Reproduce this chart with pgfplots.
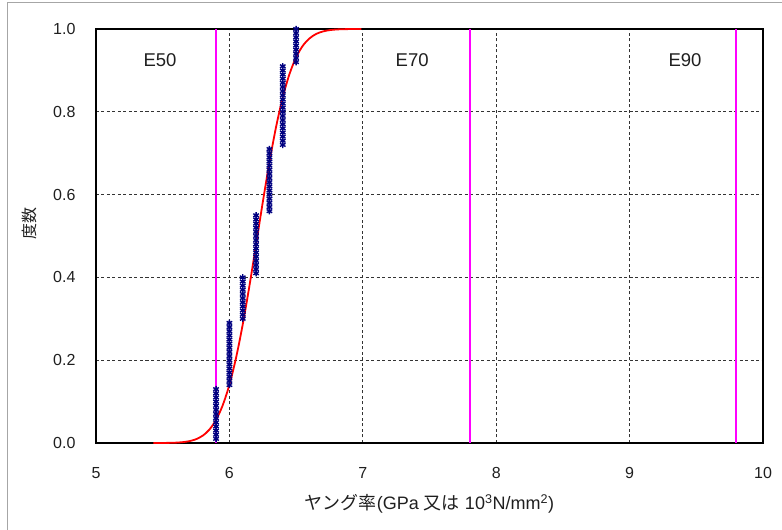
\documentclass[border=0pt]{standalone}
\usepackage{pgfplots}
\pgfplotsset{compat=1.18}
\usepackage{fontspec}
\setmainfont{Liberation Sans}
\newfontfamily\jp{Noto Sans CJK JP}
\definecolor{markblue}{HTML}{000080}
\definecolor{framegray}{HTML}{A6A6A6}
\definecolor{limitpink}{HTML}{FF00FF}
\definecolor{txt}{HTML}{1F1F1F}
\begin{document}
\begin{tikzpicture}
\path[use as bounding box] (0,0) rectangle (782pt,530pt);
% chart area border
\draw[framegray, line width=1pt] (7pt,0pt) -- (7pt,527pt) -- (782pt,527pt);
\begin{axis}[
  at={(96pt,87pt)}, anchor=south west,
  width=667pt, height=414pt, scale only axis,
  xmin=5, xmax=10, ymin=0, ymax=1,
  xtick={5,6,7,8,9,10},
  ytick={0,0.2,0.4,0.6,0.8,1},
  major tick length=0pt,
  axis line style={black, line width=1.6pt},
  grid=major,
  major grid style={black!80, line width=0.8pt, dash pattern=on 3pt off 2.5pt},
  /pgf/number format/assume math mode=true,
  ticklabel style={font=\fontsize{16}{19}\selectfont, text=txt},
  yticklabel style={/pgf/number format/.cd, fixed, fixed zerofill, precision=1, /tikz/.cd, xshift=-17pt},
  xticklabel style={yshift=-21pt},
  xlabel={{\jp ヤング率}(GPa {\jp 又は} 10\textsuperscript{3}N/mm\textsuperscript{2})},
  ylabel={\jp 度数},
  label style={text=txt},
  xlabel style={font=\fontsize{18}{21}\selectfont, at={(axis description cs:0.5,-0.148)}, anchor=center},
  ylabel style={font=\fontsize{16}{19}\selectfont, at={(axis description cs:-0.1004,0.531)}, anchor=center},
  clip=false,
]
% grade limits
\addplot[limitpink, line width=2pt] coordinates {(5.9,0) (5.9,1)};
\addplot[limitpink, line width=2pt] coordinates {(7.8,0) (7.8,1)};
\addplot[limitpink, line width=2pt] coordinates {(9.8,0) (9.8,1)};
% fitted normal distribution
\addplot[red, line width=1.8pt, smooth] coordinates {
 (5.43,0.00003) (5.50,0.00014) (5.55,0.00036) (5.60,0.00088) (5.65,0.00204)
 (5.70,0.00446) (5.75,0.00916) (5.80,0.0177) (5.85,0.0324) (5.90,0.0559)
 (5.95,0.0912) (6.00,0.1407) (6.05,0.2059) (6.10,0.2864) (6.15,0.3791)
 (6.20,0.4796) (6.25,0.5812) (6.30,0.6779) (6.35,0.7636) (6.40,0.8350)
 (6.45,0.8908) (6.50,0.9315) (6.55,0.9594) (6.60,0.9772) (6.65,0.9880)
 (6.70,0.9940) (6.75,0.9972) (6.80,0.9988) (6.85,0.99949) (6.90,0.99980)
 (6.95,0.99993) (6.99,0.99997)};
% measured values (cumulative frequency)
\addplot[only marks, mark=asterisk, mark size=3.2pt, markblue, line width=1.4pt] coordinates {
 (5.9,0.01) (5.9,0.02) (5.9,0.03) (5.9,0.04) (5.9,0.05) (5.9,0.06) (5.9,0.07)
 (5.9,0.08) (5.9,0.09) (5.9,0.10) (5.9,0.11) (5.9,0.12) (5.9,0.13)
 (6.0,0.14) (6.0,0.15) (6.0,0.16) (6.0,0.17) (6.0,0.18) (6.0,0.19) (6.0,0.20)
 (6.0,0.21) (6.0,0.22) (6.0,0.23) (6.0,0.24) (6.0,0.25) (6.0,0.26) (6.0,0.27)
 (6.0,0.28) (6.0,0.29)
 (6.1,0.30) (6.1,0.31) (6.1,0.32) (6.1,0.33) (6.1,0.34) (6.1,0.35) (6.1,0.36)
 (6.1,0.37) (6.1,0.38) (6.1,0.39) (6.1,0.40)
 (6.2,0.41) (6.2,0.42) (6.2,0.43) (6.2,0.44) (6.2,0.45) (6.2,0.46) (6.2,0.47)
 (6.2,0.48) (6.2,0.49) (6.2,0.50) (6.2,0.51) (6.2,0.52) (6.2,0.53) (6.2,0.54)
 (6.2,0.55)
 (6.3,0.56) (6.3,0.57) (6.3,0.58) (6.3,0.59) (6.3,0.60) (6.3,0.61) (6.3,0.62)
 (6.3,0.63) (6.3,0.64) (6.3,0.65) (6.3,0.66) (6.3,0.67) (6.3,0.68) (6.3,0.69)
 (6.3,0.70) (6.3,0.71)
 (6.4,0.72) (6.4,0.73) (6.4,0.74) (6.4,0.75) (6.4,0.76) (6.4,0.77) (6.4,0.78)
 (6.4,0.79) (6.4,0.80) (6.4,0.81) (6.4,0.82) (6.4,0.83) (6.4,0.84) (6.4,0.85)
 (6.4,0.86) (6.4,0.87) (6.4,0.88) (6.4,0.89) (6.4,0.90) (6.4,0.91)
 (6.5,0.92) (6.5,0.93) (6.5,0.94) (6.5,0.95) (6.5,0.96) (6.5,0.97) (6.5,0.98)
 (6.5,0.99) (6.5,1.00)};
% grade names
\node[font=\fontsize{18.5}{22}\selectfont, text=txt] at (axis cs:5.48,0.925) {E50};
\node[font=\fontsize{18.5}{22}\selectfont, text=txt] at (axis cs:7.37,0.925) {E70};
\node[font=\fontsize{18.5}{22}\selectfont, text=txt] at (axis cs:9.415,0.925) {E90};
\end{axis}
\end{tikzpicture}
\end{document}
